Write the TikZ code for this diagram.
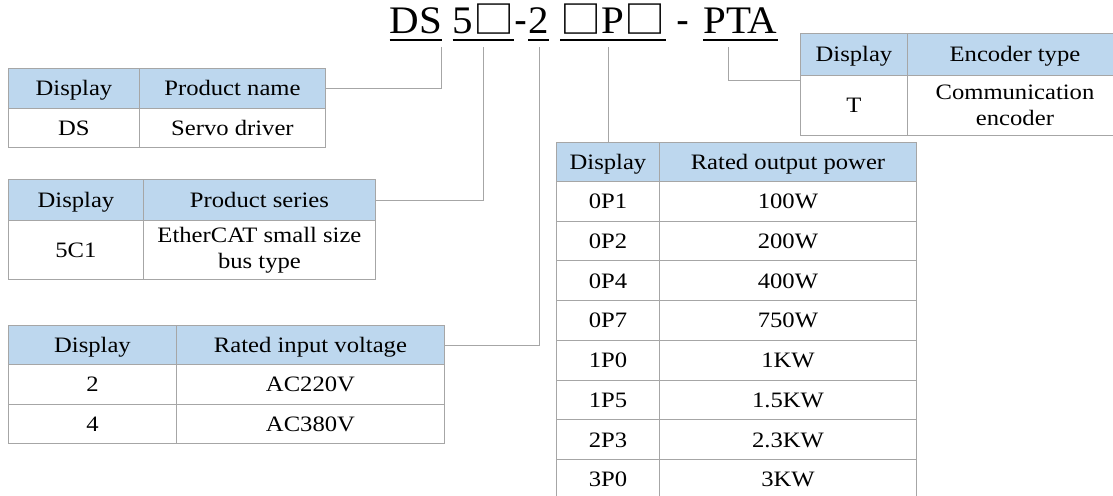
\documentclass[tikz,border=0pt]{standalone}
\usepackage{fontspec}
\setmainfont{Liberation Serif}
\newfontfamily\tabfont[FakeStretch=1.12]{Liberation Serif}
\newfontfamily\titlefont[FakeStretch=1.05]{Liberation Serif}
\newfontfamily\boxfont[FakeStretch=1.08]{Noto Sans CJK SC}
\newfontfamily\dashfont{Liberation Sans}
\usepackage{tikz}
\definecolor{headblue}{HTML}{BDD7EE}
\definecolor{gridgray}{HTML}{A6A6A6}
\newcommand{\sqbox}{{\boxfont\fontsize{38}{38}\selectfont □}}

\begin{document}
\begin{tikzpicture}[x=1pt,y=-1pt,
  cell/.style={draw=gridgray,line width=0.9pt,anchor=north west,inner sep=0pt,align=center,font=\tabfont\fontsize{22}{26}\selectfont},
  one/.style={cell,text height=17pt,text depth=2pt},
  head/.style={one,fill=headblue},
  link/.style={draw=gridgray,line width=0.9pt},
  titletext/.style={anchor=base,inner sep=0pt,font=\titlefont\fontsize{39}{44}\selectfont},
  dashtext/.style={anchor=base,inner sep=0pt,font=\dashfont\fontsize{39}{44}\selectfont},
  uline/.style={line width=1.4pt}]
\useasboundingbox (0,0) rectangle (1113,495);
% \draw[color=gray,step=10pt,help lines,opacity=0.3] (0,0) grid (1113,495); %help grids

% model code
\node[titletext] (tDS) at (416,34) {DS};
\node[titletext] (tSer) at (483.5,34) {5\sqbox};
\node[dashtext] (tDa) at (521,34) {-};
\node[titletext] (tVol) at (538.5,34) {2};
\node[titletext] (tPow) at (613,34) {\sqbox P\sqbox};
\node[dashtext] (tDb) at (683,34) {-};
\node[titletext] (tEnc) at (740.5,34) {PTA};
\draw[uline] ([yshift=-6pt]tDS.base west)--([yshift=-6pt]tDS.base east);
\draw[uline] ([yshift=-6pt]tSer.base west)--([yshift=-6pt]tSer.base east);
\draw[uline] ([yshift=-6pt]tVol.base west)--([yshift=-6pt]tVol.base east);
\draw[uline] ([yshift=-6pt]tPow.base west)--([yshift=-6pt]tPow.base east);
\draw[uline] ([yshift=-6pt]tEnc.base west)--([yshift=-6pt]tEnc.base east);
\coordinate (kDS) at (441,47);
\coordinate (kSer) at (483,47);
\coordinate (kVol) at (539,47);
\coordinate (kPow) at (608,47);
\coordinate (kEnc) at (728,47);

% product name
\node[head,minimum width=131pt,minimum height=40pt] (nameH1) at (8,68) {Display};
\node[head,minimum width=186pt,minimum height=40pt] (nameH2) at (139,68) {Product name};
\node[one,minimum width=131pt,minimum height=39pt] (nameD1) at (8,108) {DS};
\node[one,minimum width=186pt,minimum height=39pt] (nameD2) at (139,108) {Servo driver};

% product series
\node[head,minimum width=135pt,minimum height=41pt] (serH1) at (8,179) {Display};
\node[head,minimum width=232pt,minimum height=41pt] (serH2) at (143,179) {Product series};
\node[one,minimum width=135pt,minimum height=59pt] (serD1) at (8,220) {5C1};
\node[cell,minimum width=232pt,minimum height=59pt] (serD2) at (143,220) {EtherCAT small size\\bus type};

% input voltage
\node[head,minimum width=168pt,minimum height=39pt] (volH1) at (8,325) {Display};
\node[head,minimum width=268pt,minimum height=39pt] (volH2) at (176,325) {Rated input voltage};
\node[one,minimum width=168pt,minimum height=40pt] (volD1) at (8,364) {2};
\node[one,minimum width=268pt,minimum height=40pt] (volD2) at (176,364) {AC220V};
\node[one,minimum width=168pt,minimum height=39pt] (volE1) at (8,404) {4};
\node[one,minimum width=268pt,minimum height=39pt] (volE2) at (176,404) {AC380V};

% output power
\node[head,minimum width=103pt,minimum height=39pt] (powH1) at (556,142) {Display};
\node[head,minimum width=257pt,minimum height=39pt] (powH2) at (659,142) {Rated output power};
\node[one,minimum width=103pt,minimum height=39.7pt] (powA1) at (556,181) {0P1};
\node[one,minimum width=257pt,minimum height=39.7pt] (powA2) at (659,181) {100W};
\node[one,minimum width=103pt,minimum height=39.7pt] (powB1) at (556,220.7) {0P2};
\node[one,minimum width=257pt,minimum height=39.7pt] (powB2) at (659,220.7) {200W};
\node[one,minimum width=103pt,minimum height=39.7pt] (powC1) at (556,260.4) {0P4};
\node[one,minimum width=257pt,minimum height=39.7pt] (powC2) at (659,260.4) {400W};
\node[one,minimum width=103pt,minimum height=39.7pt] (powD1) at (556,300.1) {0P7};
\node[one,minimum width=257pt,minimum height=39.7pt] (powD2) at (659,300.1) {750W};
\node[one,minimum width=103pt,minimum height=39.7pt] (powE1) at (556,339.8) {1P0};
\node[one,minimum width=257pt,minimum height=39.7pt] (powE2) at (659,339.8) {1KW};
\node[one,minimum width=103pt,minimum height=39.7pt] (powF1) at (556,379.5) {1P5};
\node[one,minimum width=257pt,minimum height=39.7pt] (powF2) at (659,379.5) {1.5KW};
\node[one,minimum width=103pt,minimum height=39.7pt] (powG1) at (556,419.2) {2P3};
\node[one,minimum width=257pt,minimum height=39.7pt] (powG2) at (659,419.2) {2.3KW};
\node[one,minimum width=103pt,minimum height=39.7pt] (powK1) at (556,458.9) {3P0};
\node[one,minimum width=257pt,minimum height=39.7pt] (powK2) at (659,458.9) {3KW};

% encoder type
\node[head,minimum width=107pt,minimum height=42pt] (encH1) at (800,33) {Display};
\node[head,minimum width=215pt,minimum height=42pt] (encH2) at (907,33) {Encoder type};
\node[one,minimum width=107pt,minimum height=60pt] (encD1) at (800,75) {T};
\node[cell,minimum width=215pt,minimum height=60pt] (encD2) at (907,75) {Communication\\encoder};

% leaders
\draw[link] (nameH2.east) -| (kDS);
\draw[link] (serH2.east) -| (kSer);
\draw[link] (volH2.east) -| (kVol);
\draw[link] (kPow) -- (kPow |- powH1.north);
\draw[link] (kEnc) |- ([yshift=-5pt]encH1.south west);

\end{tikzpicture}
\end{document}
